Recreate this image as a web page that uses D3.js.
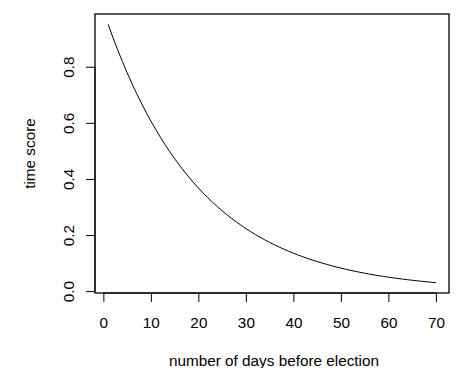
<!DOCTYPE html>
<html>
<head>
<meta charset="utf-8">
<script src="https://cdn.jsdelivr.net/npm/d3@7"></script>
<style>
  html, body { margin: 0; padding: 0; background: #fff; }
  svg { display: block; }
  text { font-family: "Liberation Sans", Arial, sans-serif; fill: #000; }
</style>
</head>
<body>
<script>
// Data
const days = d3.range(1, 71);
const timeScore = [
  0.9512, 0.9048, 0.8607, 0.8187, 0.7788, 0.7408, 0.7047, 0.6703, 0.6376, 0.6065,
  0.5769, 0.5488, 0.5220, 0.4966, 0.4724, 0.4493, 0.4274, 0.4066, 0.3867, 0.3679,
  0.3499, 0.3329, 0.3166, 0.3012, 0.2865, 0.2725, 0.2592, 0.2466, 0.2346, 0.2231,
  0.2122, 0.2019, 0.1920, 0.1827, 0.1738, 0.1653, 0.1572, 0.1496, 0.1423, 0.1353,
  0.1287, 0.1225, 0.1165, 0.1108, 0.1054, 0.1003, 0.0954, 0.0907, 0.0863, 0.0821,
  0.0781, 0.0743, 0.0707, 0.0672, 0.0639, 0.0608, 0.0578, 0.0550, 0.0523, 0.0498,
  0.0474, 0.0450, 0.0429, 0.0408, 0.0388, 0.0369, 0.0351, 0.0334, 0.0317, 0.0302
];
const xTicks = [0, 10, 20, 30, 40, 50, 60, 70];
const yTicks = [0.0, 0.2, 0.4, 0.6, 0.8];
const xLabel = "number of days before election";
const yLabel = "time score";

const W = 457, H = 368;
const box = { left: 95, top: 14, right: 449, bottom: 293 };

const svg = d3.select("body").append("svg").attr("width", W).attr("height", H);

// R-style 4% padding
const xExt = d3.extent(days), yExt = d3.extent(timeScore);
const xPad = (xExt[1] - xExt[0]) * 0.04, yPad = (yExt[1] - yExt[0]) * 0.04;
const x = d3.scaleLinear().domain([xExt[0] - xPad, xExt[1] + xPad]).range([box.left, box.right]);
const y = d3.scaleLinear().domain([yExt[0] - yPad, yExt[1] + yPad]).range([box.bottom, box.top]);

const fs = 15.3;
const ff = "Liberation Sans, Arial, sans-serif";

// x axis
const xAxis = d3.axisBottom(x).tickValues(xTicks).tickFormat(d3.format("d")).tickSize(9);
const gx = svg.append("g").attr("transform", `translate(0,${box.bottom})`).call(xAxis);
gx.select(".domain").attr("d", `M${x(xTicks[0])},0H${x(xTicks[xTicks.length-1])}`).attr("stroke", "#000");
gx.selectAll(".tick line").attr("stroke", "#000");
gx.selectAll(".tick text").attr("font-size", fs).attr("font-family", ff).attr("fill", "#000")
  .attr("y", 35).attr("dy", null);

// y axis
const yAxis = d3.axisLeft(y).tickValues(yTicks).tickFormat(d3.format(".1f")).tickSize(9);
const gy = svg.append("g").attr("transform", `translate(${box.left},0)`).call(yAxis);
gy.select(".domain").attr("d", `M0,${y(yTicks[0])}V${y(yTicks[yTicks.length-1])}`).attr("stroke", "#000");
gy.selectAll(".tick line").attr("stroke", "#000");
gy.selectAll(".tick text")
  .attr("font-size", fs).attr("font-family", ff).attr("fill", "#000")
  .attr("x", null).attr("dy", null)
  .attr("text-anchor", "middle")
  .attr("transform", "translate(-21.5,0) rotate(-90)");

// box
svg.append("rect")
  .attr("x", box.left).attr("y", box.top)
  .attr("width", box.right - box.left).attr("height", box.bottom - box.top)
  .attr("fill", "none").attr("stroke", "#000").attr("stroke-width", 1.3);

// line
const line = d3.line().x((d, i) => x(days[i])).y(d => y(d));
svg.append("path").datum(timeScore)
  .attr("d", line).attr("fill", "none").attr("stroke", "#000").attr("stroke-width", 1);

// axis titles
svg.append("text").attr("x", (box.left + box.right) / 2 + 2).attr("y", 366)
  .attr("text-anchor", "middle").attr("font-size", fs).text(xLabel);
svg.append("text")
  .attr("transform", `translate(35,${(box.top + box.bottom) / 2}) rotate(-90)`)
  .attr("text-anchor", "middle").attr("font-size", fs).text(yLabel);
</script>
</body>
</html>
